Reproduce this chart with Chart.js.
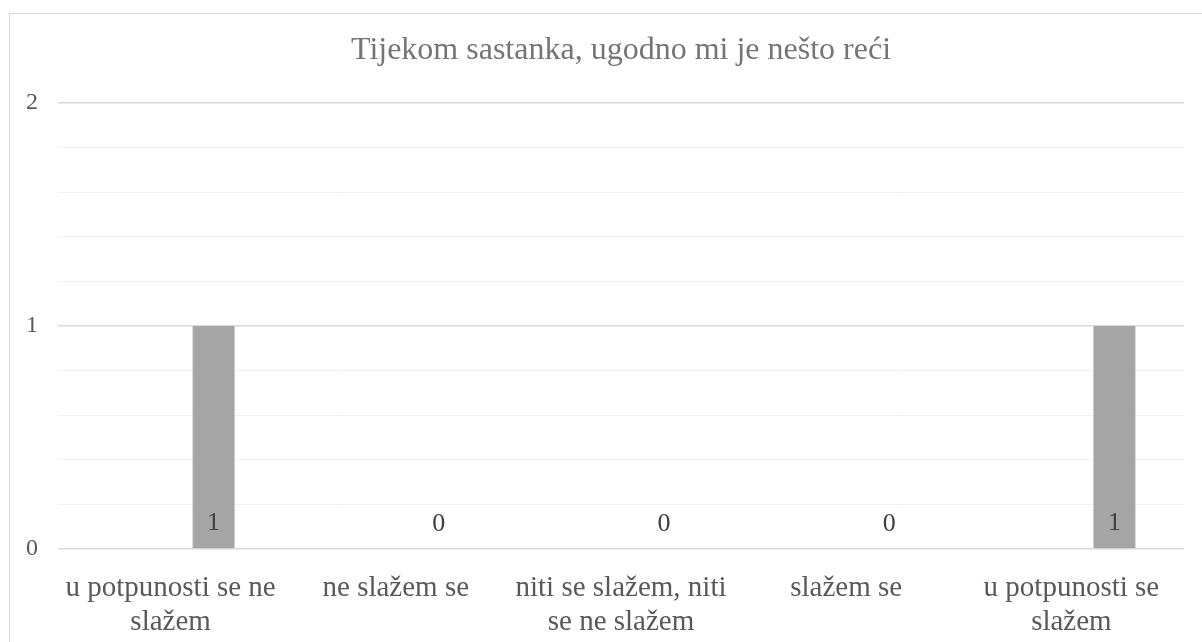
<!DOCTYPE html>
<html>
<head>
<meta charset="utf-8">
<script src="https://cdn.jsdelivr.net/npm/chart.js@4"></script>
<style>
  html, body { margin: 0; padding: 0; background: #fff; overflow: hidden; }
  #wrap { position: relative; width: 1202px; height: 642px; }
  #frame { position: absolute; left: 9px; top: 13px; width: 1240px; height: 680px; border: 1.5px solid #d9d9d9; box-sizing: border-box; }
  #chart { position: absolute; left: 0; top: 0; }
</style>
</head>
<body>
<div id="wrap">
  <div id="frame"></div>
  <canvas id="chart" width="1202" height="642"></canvas>
</div>
<script>
const chartTitle = 'Tijekom sastanka, ugodno mi je nešto reći';
const categories = [
  ['u potpunosti se ne', 'slažem'],
  'ne slažem se',
  ['niti se slažem, niti', 'se ne slažem'],
  'slažem se',
  ['u potpunosti se', 'slažem']
];
const emptySeriesA = [null, null, null, null, null];
const emptySeriesB = [null, null, null, null, null];
const answers = [1, 0, 0, 0, 1];
const yTicks = [0, 1, 2];

const serif = "'Liberation Serif', 'Times New Roman', serif";

// etikete vrijednosti pri dnu stupca
const valueLabels = {
    id: 'valueLabels',
    afterDatasetsDraw(chart) {
        const ctx = chart.ctx;
        const meta = chart.getDatasetMeta(2);
        ctx.save();
        ctx.font = '26px ' + serif;
        ctx.fillStyle = '#404040';
        ctx.textAlign = 'center';
        ctx.textBaseline = 'middle';
        meta.data.forEach(function (bar, i) {
            ctx.fillText(String(answers[i]), bar.x, bar.base - 25);
        });
        ctx.restore();
    }
};

const isWhole = v => Math.abs(v - Math.round(v)) < 1e-6;

document.addEventListener('DOMContentLoaded', function () {
    const ctx = document.getElementById('chart');
    new Chart(ctx, {
        type: 'bar',
        data: {
            labels: categories,
            datasets: [
                { data: emptySeriesA, backgroundColor: '#a5a5a5' },
                { data: emptySeriesB, backgroundColor: '#a5a5a5' },
                {
                    data: answers,
                    backgroundColor: '#a5a5a5',
                    borderColor: '#d0d0d0',
                    borderWidth: { left: 1, right: 1, top: 0, bottom: 0 }
                }
            ]
        },
        options: {
            responsive: false,
            animation: false,
            events: [],
            categoryPercentage: 0.573,
            barPercentage: 1,
            layout: { padding: { left: 0, right: 18, top: 0, bottom: 0 } },
            plugins: {
                legend: { display: false },
                tooltip: { enabled: false },
                title: {
                    display: true,
                    fullSize: false,
                    text: chartTitle,
                    color: '#757575',
                    font: { family: serif, size: 32, weight: 'normal', lineHeight: 1.2 },
                    padding: { top: 31, bottom: 33.6 }
                }
            },
            scales: {
                x: {
                    grid: { display: false, drawTicks: false },
                    border: { display: false },
                    ticks: {
                        color: '#595959',
                        font: { family: serif, size: 29, lineHeight: 34 / 29 },
                        padding: 22,
                        maxRotation: 0,
                        autoSkip: false
                    },
                    afterFit: s => { s.height = 93; }
                },
                y: {
                    min: 0,
                    max: 2,
                    border: { display: false },
                    grid: {
                        drawTicks: false,
                        lineWidth: ctx => isWhole(ctx.tick.value) ? 1.5 : 1,
                        color: ctx => isWhole(ctx.tick.value) ? '#d9d9d9' : '#f0f0f0'
                    },
                    ticks: {
                        stepSize: 0.2,
                        color: '#595959',
                        font: { family: serif, size: 24 },
                        padding: 20,
                        callback: v => yTicks.includes(Math.round(v)) && isWhole(v) ? String(Math.round(v)) : ''
                    },
                    afterFit: s => { s.width = 58; }
                }
            }
        },
        plugins: [valueLabels]
    });
});
</script>
</body>
</html>
